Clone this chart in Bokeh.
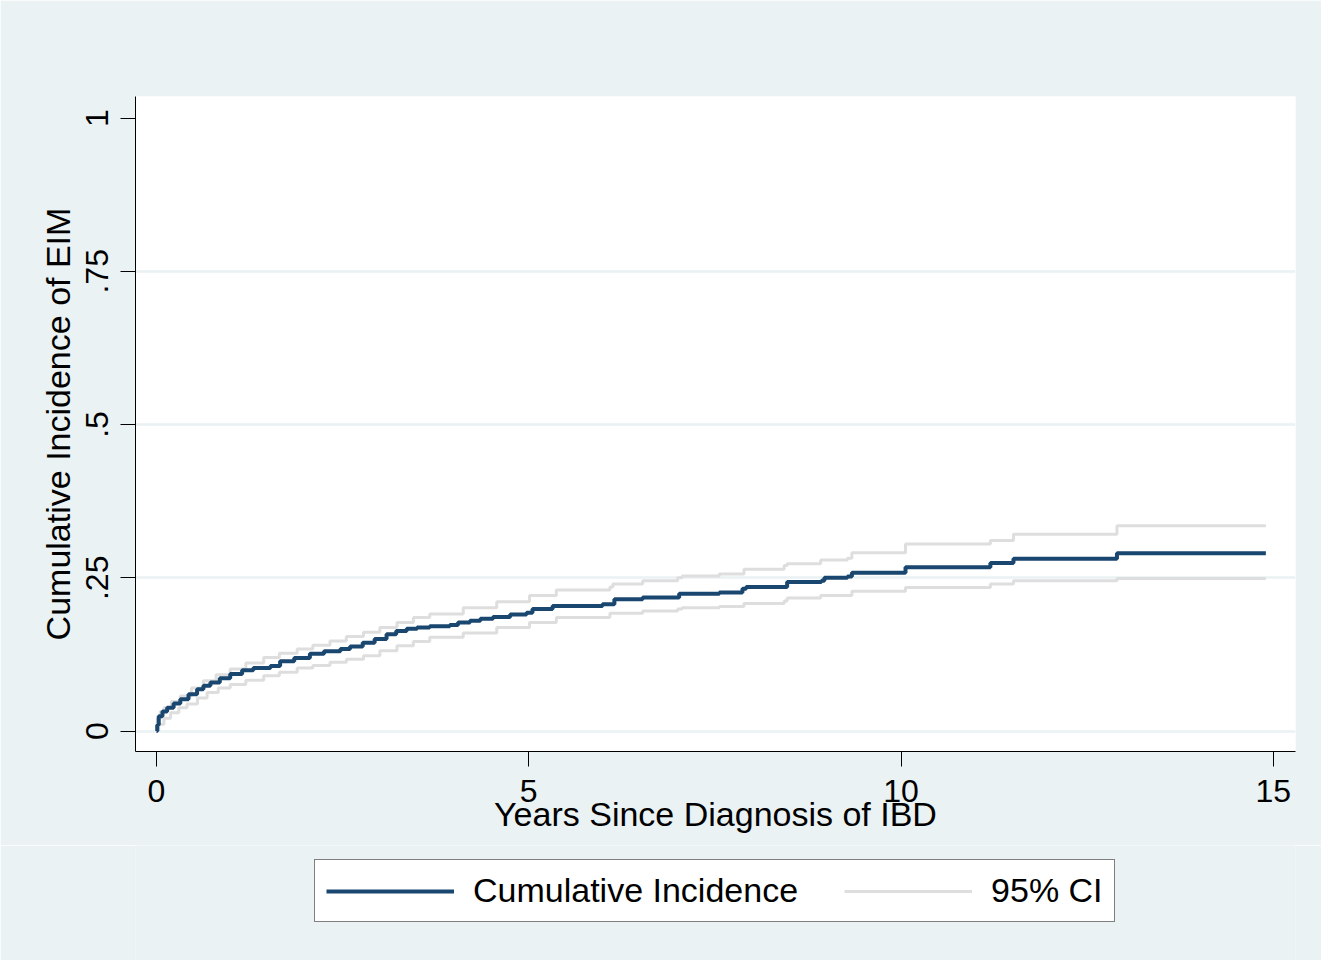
from bokeh.plotting import figure
from bokeh.layouts import column
from bokeh.models import Range1d, FixedTicker, Legend, LegendItem
from bokeh.embed import file_html
from bokeh.resources import INLINE

# ---- data ----
ci_x = [0, 0.01, 0.03, 0.08, 0.143, 0.23, 0.32, 0.43, 0.545, 0.63, 0.724, 0.85, 0.99,
        1.15, 1.30, 1.53, 1.66, 1.85, 2.06, 2.25, 2.47, 2.60, 2.77, 2.93, 3.09, 3.22,
        3.36, 3.50, 3.67, 3.94, 4.05, 4.21, 4.35, 4.52, 4.75, 4.97, 5.05, 5.32, 5.99,
        6.15, 6.53, 7.02, 7.56, 7.87, 7.92, 8.47, 8.93, 8.97, 9.28, 9.34, 10.06, 11.20,
        11.51, 12.90, 14.90]
ci_y = [0, 0.010, 0.024, 0.032, 0.038, 0.045, 0.052, 0.060, 0.068, 0.074, 0.079, 0.086, 0.093,
        0.099, 0.103, 0.106, 0.114, 0.119, 0.126, 0.130, 0.134, 0.138, 0.144, 0.150, 0.158, 0.163,
        0.167, 0.169, 0.171, 0.173, 0.177, 0.180, 0.183, 0.186, 0.190, 0.193, 0.199, 0.204, 0.207,
        0.215, 0.218, 0.224, 0.226, 0.232, 0.235, 0.243, 0.245, 0.250, 0.252, 0.258, 0.267, 0.274,
        0.281, 0.290, 0.290]

up_x = [0, 0.01, 0.05, 0.1, 0.2, 0.32, 0.47, 0.63, 0.80, 0.99, 1.2, 1.44, 1.65, 1.89, 2.1,
        2.33, 2.55, 2.78, 3.0, 3.23, 3.45, 3.67, 4.12, 4.57, 5.01, 5.37, 6.09, 6.13, 6.53,
        7.0, 7.06, 7.56, 7.89, 8.43, 8.47, 8.92, 9.28, 9.34, 10.06, 11.2, 11.51, 12.9, 14.9]
up_y = [0, 0.020, 0.032, 0.038, 0.048, 0.057, 0.070, 0.082, 0.092, 0.101, 0.111, 0.120, 0.127,
        0.134, 0.140, 0.147, 0.154, 0.161, 0.169, 0.177, 0.185, 0.191, 0.201, 0.211, 0.221, 0.230,
        0.235, 0.240, 0.245, 0.250, 0.253, 0.256, 0.264, 0.270, 0.273, 0.279, 0.282, 0.291, 0.305,
        0.311, 0.321, 0.335, 0.335]

lo_x = [0, 0.03, 0.1, 0.19, 0.30, 0.41, 0.55, 0.68, 0.83, 0.99, 1.2, 1.44, 1.65, 1.89, 2.1,
        2.33, 2.55, 2.78, 3.0, 3.23, 3.45, 3.67, 4.12, 4.57, 5.01, 5.37, 6.09, 6.53, 7.0, 7.06,
        7.56, 7.89, 8.43, 8.47, 8.92, 9.34, 10.06, 11.2, 11.51, 12.9, 14.9]
lo_y = [0, 0.011, 0.021, 0.030, 0.038, 0.044, 0.054, 0.063, 0.070, 0.076, 0.083, 0.090, 0.096,
        0.103, 0.107, 0.112, 0.117, 0.123, 0.131, 0.139, 0.146, 0.153, 0.160, 0.169, 0.177, 0.185,
        0.192, 0.196, 0.199, 0.201, 0.203, 0.208, 0.212, 0.217, 0.221, 0.228, 0.234, 0.240, 0.245,
        0.249, 0.249]

x_ticks = [0, 5, 10, 15]
y_ticks = [0, 0.25, 0.5, 0.75, 1]
y_tick_labels = {0: "0", 0.25: ".25", 0.5: ".5", 0.75: ".75", 1: "1"}
grid_ticks = [0, 0.25, 0.5, 0.75]
legend_labels = ["Cumulative Incidence", "95% CI"]

BG = "#EAF2F3"
NAVY = "#1A476F"
GRAY = "#DEDEDE"
FONT = "Liberation Sans"

p = figure(frame_width=1160, frame_height=655, output_backend="svg", toolbar_location=None,
           x_range=Range1d(-0.282, 15.298), y_range=Range1d(-0.0334, 1.0351),
           min_border_left=135, min_border_right=26, min_border_top=96, min_border_bottom=94)
p.background_fill_color = "white"
p.border_fill_color = BG
p.outline_line_color = None

p.step(lo_x, lo_y, mode="after", line_color=GRAY, line_width=3)
p.step(up_x, up_y, mode="after", line_color=GRAY, line_width=3)
p.step(ci_x, ci_y, mode="after", line_color=NAVY, line_width=4)

# axes
p.xaxis.ticker = FixedTicker(ticks=x_ticks)
p.yaxis.ticker = FixedTicker(ticks=y_ticks)
p.yaxis.major_label_overrides = y_tick_labels
p.yaxis.major_label_orientation = "vertical"
for ax in (p.xaxis, p.yaxis):
    ax.axis_line_color = "black"
    ax.axis_line_width = 1
    ax.major_tick_line_color = "black"
    ax.major_tick_line_width = 1
    ax.major_tick_in = 0
    ax.major_tick_out = 15
    ax.minor_tick_line_color = None
    ax.major_label_text_font = FONT
    ax.major_label_text_font_size = "32px"
    ax.major_label_text_color = "black"
    ax.axis_label_text_font = FONT
    ax.axis_label_text_font_size = "34px"
    ax.axis_label_text_font_style = "normal"
    ax.axis_label_text_color = "black"
p.xaxis.axis_label = "Years Since Diagnosis of IBD"
p.yaxis.axis_label = "Cumulative Incidence of EIM"
p.xaxis.major_label_standoff = 13
p.xaxis.axis_label_standoff = -10
p.yaxis.major_label_standoff = 12
p.yaxis.axis_label_standoff = 7

p.xgrid.visible = False
p.ygrid.ticker = FixedTicker(ticks=grid_ticks)
p.ygrid.grid_line_color = BG
p.ygrid.grid_line_width = 2.5

# ---- legend strip (separate figure so the legend is not clipped) ----
lg = figure(width=1321, height=115, output_backend="svg", toolbar_location=None,
            x_axis_type=None, y_axis_type=None, min_border=0,
            x_range=Range1d(0, 1), y_range=Range1d(0, 1))
lg.background_fill_color = BG
lg.border_fill_color = BG
lg.outline_line_color = None
lg.xgrid.visible = False
lg.ygrid.visible = False
# legend-only renderers, kept outside the visible range
r_ci = lg.line([-5, -4], [-5, -5], line_color=NAVY, line_width=4)
r_band = lg.line([-5, -4], [-5, -5], line_color=GRAY, line_width=3)

legend = Legend(items=[LegendItem(label=legend_labels[0], renderers=[r_ci]),
                       LegendItem(label=legend_labels[1], renderers=[r_band])],
                orientation="horizontal", location=(179, 38))
legend.glyph_width = 128
legend.glyph_height = 38
legend.label_height = 38
legend.label_standoff = 19
legend.spacing = 46
legend.padding = 11
legend.margin = 0
legend.label_text_font = FONT
legend.label_text_font_size = "34px"
legend.label_text_color = "black"
legend.border_line_color = "black"
legend.border_line_width = 1.5
legend.background_fill_color = "white"
legend.background_fill_alpha = 1
lg.add_layout(legend)

open("out.html", "w").write(file_html(column(p, lg, spacing=0), INLINE))
